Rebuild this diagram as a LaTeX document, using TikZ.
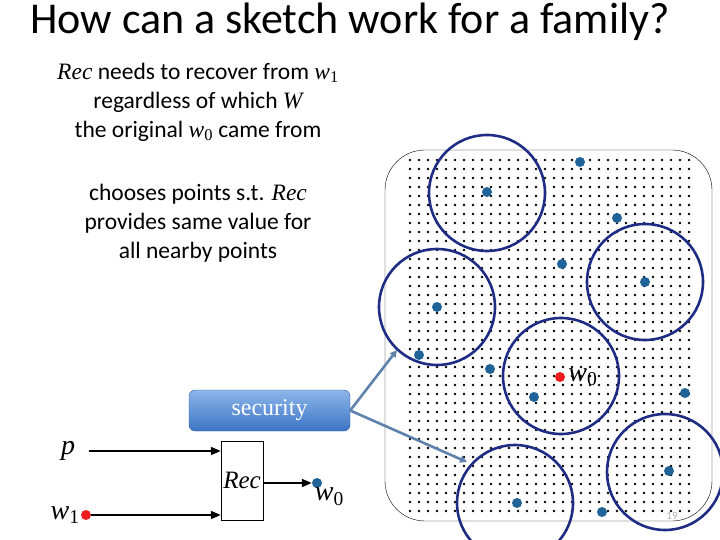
\documentclass[tikz,border=0pt]{standalone}
\usepackage{fontspec}
\setmainfont{Carlito}
\newfontfamily\timesf{Liberation Serif}
\usetikzlibrary{positioning,arrows.meta}
\definecolor{skNavy}{HTML}{1F2C84}
\definecolor{skBlue}{HTML}{1F6399}
\definecolor{skRed}{HTML}{EE1C1C}
\definecolor{skSteel}{HTML}{5F82AD}
\definecolor{skTop}{HTML}{8DB6EA}
\definecolor{skBot}{HTML}{3C74C4}
\newcommand{\vr}[1]{{\timesf\itshape #1}}
\newcommand{\vsub}[2]{{\timesf\itshape #1}\textsubscript{\timesf #2}}
\tikzset{
  ball/.style={circle, draw=skNavy, line width=2.6pt, inner sep=0pt,
    minimum size=116pt},
  bluePt/.style={circle, fill=skBlue, inner sep=0pt, minimum size=10pt},
  redPt/.style={circle, fill=skRed, inner sep=0pt, minimum size=10pt},
  txt/.style={align=center, font=\fontsize{23.5}{29}\selectfont},
  varLbl/.style={inner sep=0pt, font=\fontsize{28}{32}\selectfont},
  recBox/.style={rectangle, draw, fill=white, minimum width=42pt,
    minimum height=79pt, inner sep=0pt, font=\fontsize{25}{28}\selectfont},
  secBox/.style={rectangle, rounded corners=6pt, draw=skBot!80!black,
    top color=skTop, bottom color=skBot, minimum width=161pt,
    minimum height=41pt, text=white, font=\timesf\fontsize{24}{28}\selectfont},
  arrowBlk/.style={-{Triangle[length=10pt,width=8pt]}, line width=1.8pt},
  arrowSec/.style={-{Triangle[length=7pt,width=7pt]}, line width=2.6pt, skSteel},
}
\begin{document}
\begin{tikzpicture}[x=1pt,y=-1pt]
    \useasboundingbox (0,0) rectangle (720,540);
    \node[anchor=base west, inner sep=0pt, font=\fontsize{44}{52}\selectfont] (title) at (30,34)
          {How can a sketch work for a family?};
    \node[txt] (need)   at (198,102) {\vr{Rec} needs to recover from \vsub{w}{1}\\regardless of which \vr{W}\\the original \vsub{w}{0} came from};
    \node[txt] (choose) at (198,223) {chooses points s.t. \vr{Rec}\\provides same value for\\all nearby points};

    % the space of points
    \node[draw, rounded corners=40pt, minimum width=327pt, minimum height=371pt] (space) at (548.5,335.5) {};
    \foreach \i in {0,...,31} {
      \foreach \j in {0,...,39} {
        \fill (410+9*\i,160+9*\j) circle (1.3pt);
      }
    }
    \node[ball] (b1) at (487,193) {};
    \node[ball] (b2) at (437,307) {};
    \node[ball] (b3) at (645,282) {};
    \node[ball] (b4) at (561,376) {};
    \node[ball] (b5) at (515,503) {};
    \node[ball] (b6) at (665,472) {};
    \foreach \x/\y [count=\k] in {580/162, 487/192, 617/218, 562/264, 645/282, 437/307, 419/355,
                                   490/369, 534/397, 685/393, 669/471, 517/503, 602/512}
      \node[bluePt] (pt\k) at (\x,\y) {};
    \node[redPt] (w0) at (560,377) {};
    \node[varLbl, right=3pt of w0] (w0lbl) {\vsub{w}{0}};
    \node[text=gray!60, font=\fontsize{11}{12}\selectfont] (pgnum) at (672,516) {19};

    % recovery
    \node[secBox] (sec) at (269.5,410.5) {security};
    \coordinate (tipA) at (397,350);
    \coordinate (tipB) at (467,462);
    \draw[arrowSec] (sec.east) -- (tipA);
    \draw[arrowSec] (sec.east) -- (tipB);

    \node[recBox] (rec) at (242,480.5) {\vr{Rec}};
    \node[varLbl] (p) at (68,451) {\vr{p}};
    \node[redPt] (w1) at (86,515) {};
    \node[varLbl, left=1pt of w1] (w1lbl) {\vsub{w}{1}};
    \node[bluePt] (out) at (317,483) {};
    \node[varLbl, below right=1pt and -6pt of out] (outlbl) {\vsub{w}{0}};

    \draw[arrowBlk, shorten <=14pt] (p) -- (rec.west |- p);
    \draw[arrowBlk] (w1) -- (rec.west |- w1);
    \draw[arrowBlk] (rec.east |- out) -- (out.west);
  \end{tikzpicture}
\end{document}
